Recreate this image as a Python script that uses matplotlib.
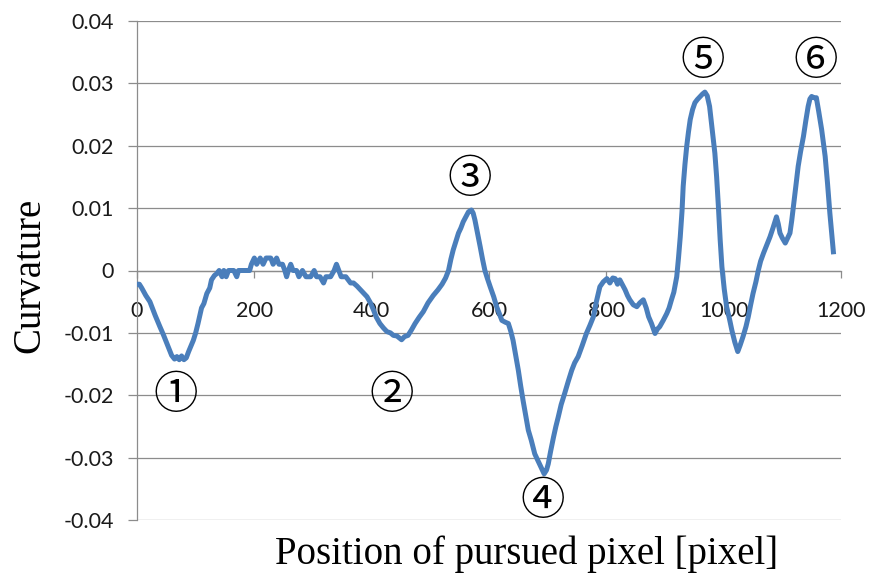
import matplotlib
matplotlib.use("Agg")
import matplotlib.pyplot as plt
import numpy as np

# curvature
pos = [0, 4, 8, 15, 22, 31, 39, 45, 51, 59, 64, 68, 72, 76, 80, 84, 88, 96, 100, 104,
       110, 114, 119, 124, 127, 132, 136, 140, 145, 148, 152, 156, 165, 170, 173, 185,
       192, 195, 200, 204, 210, 215, 220, 228, 232, 238, 242, 248, 252, 255, 258, 262,
       266, 272, 276, 282, 288, 296, 302, 306, 312, 318, 322, 330, 336, 340, 344, 348,
       356, 364, 369, 375, 380, 386, 392, 398, 403, 408, 414, 420, 426, 432, 437, 443,
       447, 451, 456, 462, 468, 474, 481, 488, 496, 505, 513, 520, 526, 531, 535, 539,
       544, 548, 552, 556, 560, 565, 570, 573, 576, 580, 585, 589, 593, 597, 602, 608,
       613, 618, 622, 628, 633, 637, 641, 645, 650, 654, 658, 663, 667, 672, 678, 683,
       687, 691, 694, 698, 701, 705, 710, 714, 718, 723, 729, 735, 741, 746, 752, 759,
       766, 772, 778, 783, 789, 795, 801, 806, 811, 815, 819, 823, 828, 832, 836, 840,
       846, 852, 857, 863, 868, 872, 877, 883, 887, 891, 897, 903, 907, 911, 915, 920,
       923, 926, 929, 931, 934, 937, 940, 943, 947, 951, 955, 960, 964, 968, 972, 976,
       980, 985, 988, 991, 994, 997, 1001, 1005, 1010, 1014, 1019, 1024, 1028, 1033,
       1038, 1042, 1046, 1050, 1055, 1059, 1063, 1068, 1073, 1079, 1084, 1090, 1093,
       1096, 1100, 1105, 1109, 1113, 1116, 1119, 1123, 1127, 1131, 1136, 1140, 1144,
       1147, 1150, 1154, 1158, 1162, 1167, 1170, 1173, 1177, 1181, 1184, 1187]
curv = [-0.0022, -0.0022, -0.0028, -0.0040, -0.0050, -0.0072, -0.0090, -0.0103, -0.0117,
        -0.0136, -0.0142, -0.0138, -0.0143, -0.0137, -0.0143, -0.0140, -0.0130, -0.0112,
        -0.0100, -0.0085, -0.0060, -0.0053, -0.0037, -0.0028, -0.0015, -0.0008, -0.0005,
        0.0, -0.001, 0.0, -0.001, 0.0, 0.0, -0.001, 0.0, 0.0,
        0.0, 0.001, 0.002, 0.001, 0.002, 0.001, 0.002, 0.002, 0.001, 0.002, 0.001, 0.001,
        0.0, -0.001, 0.0, 0.001, 0.0, 0.0, -0.001, 0.0, -0.001, -0.001, 0.0, -0.001,
        -0.001, -0.002, -0.001, -0.001, 0.0, 0.001, 0.0, -0.001,
        -0.001, -0.002, -0.002, -0.0025, -0.0030, -0.0036, -0.0042, -0.0052, -0.0063,
        -0.0075, -0.0085, -0.0092, -0.0098, -0.0100, -0.0104, -0.0105,
        -0.0108, -0.0111, -0.0106, -0.0104, -0.0095, -0.0085, -0.0075, -0.0066, -0.0052,
        -0.0040, -0.0031, -0.0022, -0.0012, 0.0, 0.0018, 0.0033,
        0.0048, 0.0060, 0.0068, 0.0078, 0.0085, 0.0094, 0.0097, 0.0092, 0.0081, 0.0062,
        0.0038, 0.0018, 0.0, -0.0012, -0.0026, -0.0042,
        -0.0058, -0.0070, -0.0080, -0.0083, -0.0085, -0.0097, -0.0112, -0.0133, -0.0160,
        -0.0185, -0.0208, -0.0235, -0.0256, -0.0272, -0.0294, -0.0304,
        -0.0312, -0.0320, -0.0326, -0.0320, -0.0310, -0.0290, -0.0267, -0.0250, -0.0235,
        -0.0215, -0.0197, -0.0178, -0.0160, -0.0148, -0.0138, -0.0120,
        -0.0101, -0.0088, -0.0074, -0.0050, -0.0026, -0.0018, -0.0013, -0.0020, -0.0012,
        -0.0013, -0.0022, -0.0015, -0.0024, -0.0031, -0.0040, -0.0047,
        -0.0055, -0.0058, -0.0052, -0.0047, -0.0060, -0.0074, -0.0085, -0.0101, -0.0094,
        -0.0090, -0.0080, -0.0069, -0.0060, -0.0047, -0.0035, -0.0010,
        0.0020, 0.0054, 0.0095, 0.0135, 0.0170, 0.0199, 0.0222, 0.0242, 0.0258, 0.0269,
        0.0274, 0.0279, 0.0283, 0.0286, 0.0280, 0.0263,
        0.0230, 0.0188, 0.0150, 0.0103, 0.0050, 0.0006, -0.0030, -0.0058, -0.0078,
        -0.0096, -0.0115, -0.0130, -0.0120, -0.0106,
        -0.0090, -0.0074, -0.0055, -0.0037, -0.0018, 0.0, 0.0015, 0.0028, 0.0040, 0.0054,
        0.0068, 0.0086, 0.0075,
        0.0060, 0.0052, 0.0044, 0.0052, 0.0060, 0.0080, 0.0103, 0.0135, 0.0167, 0.0190,
        0.0215, 0.0240, 0.0263,
        0.0275, 0.0279, 0.0277, 0.0277, 0.0255, 0.0226, 0.0205, 0.0183, 0.0140, 0.0092,
        0.0060, 0.0030]

# labels for the marked peaks
mark_text = ["\u2460", "\u2461", "\u2462", "\u2463", "\u2464", "\u2465"]
mark_x = [66, 435, 568, 692, 964, 1157]
mark_y = [-0.0200, -0.0200, 0.0147, -0.0369, 0.0336, 0.0336]

xticks = [0, 200, 400, 600, 800, 1000, 1200]
yticks = [-0.04, -0.03, -0.02, -0.01, 0, 0.01, 0.02, 0.03, 0.04]
ytick_labels = ["-0.04", "-0.03", "-0.02", "-0.01", "0", "0.01", "0.02", "0.03", "0.04"]

grey = "#8c8c8c"

fig = plt.figure(figsize=(8.71, 5.73), dpi=100)
ax = fig.add_axes([137 / 871, 53 / 573, 704 / 871, 499 / 573])

ax.plot(pos, curv, color="#4a7ebb", lw=3.6, solid_joinstyle="round", zorder=3)

ax.set_xlim(0, 1200)
ax.set_ylim(-0.04, 0.04)
ax.set_xticks(xticks)
ax.set_yticks(yticks)
ax.set_yticklabels(ytick_labels)
ax.xaxis.set_major_formatter(matplotlib.ticker.FuncFormatter(lambda v, p: "%d" % v))

for yv in yticks:
    ax.axhline(yv, color=grey, lw=0.9, zorder=1)

for s in ["top", "right"]:
    ax.spines[s].set_visible(False)
ax.spines["bottom"].set_position(("data", 0))
ax.spines["left"].set_color(grey)
ax.spines["bottom"].set_color(grey)
ax.spines["left"].set_linewidth(0.9)
ax.spines["bottom"].set_linewidth(0.9)

ax.tick_params(axis="y", direction="out", length=6.5, width=0.9, color=grey,
               pad=10, labelsize=15.5, labelcolor="#1a1a1a")
ax.tick_params(axis="x", direction="out", length=5, width=0.9, color=grey,
               pad=17, labelsize=15.5, labelcolor="#1a1a1a")
for lab in ax.get_xticklabels() + ax.get_yticklabels():
    lab.set_fontfamily("Lato")

for t, mx, my in zip(mark_text, mark_x, mark_y):
    ax.text(mx, my, t, ha="center", va="center", fontsize=32,
            family=["Noto Sans CJK JP", "DejaVu Sans"], color="black", zorder=4)

fig.text(30 / 871, 1 - 275 / 573, "Curvature", rotation=90, ha="center", va="center",
         fontsize=28, family="Liberation Serif")
fig.text(527 / 871, 1 - 564 / 573, "Position of pursued pixel [pixel]", ha="center",
         va="baseline", fontsize=28, family="Liberation Serif")

fig.savefig("out.png", dpi=100)
